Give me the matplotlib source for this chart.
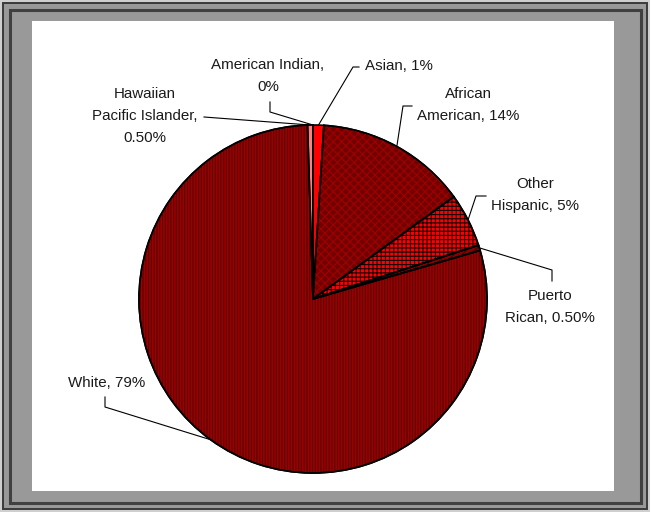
import matplotlib
matplotlib.use("Agg")
import numpy as np
import matplotlib.pyplot as plt
from matplotlib.patches import Rectangle, Wedge

# ethnic breakdown, clockwise from 12 o'clock
groups = ["Asian", "African\nAmerican", "Other\nHispanic", "Puerto\nRican",
          "White", "Hawaiian\nPacific Islander", "American Indian"]
shares = [1, 14, 5, 0.5, 79, 0.5, 0]
share_text = ["1%", "14%", "5%", "0.50%", "79%", "0.50%", "0%"]
separators = [", ", ", ", ", ", ", ", ", ", ",\n", ",\n"]

face_colors = ["#ff0000", "#720000", "#ff0000", "#8a0000",
               "#990000", "#ff8080", "#ff4040"]
hatches = [None, "xxxx", "++++", "////", "||||||", None, None]
hatch_colors = [None, "#a00000", "#1a0000", "#400000", "#5c0000", None, None]

# label placement in pixels from the top-left corner: text centre, elbow, tick end
label_pos = [(399, 66), (468, 105), (535, 195), (550, 307),
             (107, 383), (145, 116), (268, 76)]
elbows = [(353, 67), (403, 106), (476, 196), (552, 270),
          (105, 407), (204, 117), (270, 112)]
ticks = [(359, 67), (412, 106), (486, 196), (552, 281),
         (105, 397), (204, 117), (270, 102)]

W, H = 650, 512
cx, cy, r = 313, 299, 174

plt.rcParams["font.family"] = ["Liberation Sans", "DejaVu Sans"]
plt.rcParams["hatch.linewidth"] = 0.8


def up(p):
    return p[0], H - p[1]


fig = plt.figure(figsize=(6.5, 5.12), dpi=100)
ax = fig.add_axes([0, 0, 1, 1])

# frame: grey band with double dark border, white plot area
ax.add_patch(Rectangle((0, 0), W, H, facecolor="#cfcfcf", edgecolor="none"))
ax.add_patch(Rectangle((3, 3), W - 6, H - 6, facecolor="#999999",
                       edgecolor="#3a3a3a", linewidth=1.4))
ax.add_patch(Rectangle((9.5, 9.5), W - 19, H - 19, facecolor="none",
                       edgecolor="#404040", linewidth=2.2))
ax.add_patch(Rectangle((32, H - 491), 614 - 32, 491 - 21,
                       facecolor="white", edgecolor="none"))

wedges, _ = ax.pie(shares, colors=face_colors, startangle=90, counterclock=False,
                   center=up((cx, cy)), radius=r, normalize=True,
                   wedgeprops=dict(edgecolor="black", linewidth=1.2))

# fill patterns laid over the plain wedges
for w, hp, hc in zip(wedges, hatches, hatch_colors):
    if hp is None:
        continue
    ax.add_patch(Wedge(w.center, w.r, w.theta1, w.theta2, facecolor="none",
                       edgecolor=hc, linewidth=0, hatch=hp, zorder=w.zorder))
    ax.add_patch(Wedge(w.center, w.r, w.theta1, w.theta2, facecolor="none",
                       edgecolor="black", linewidth=1.2, zorder=w.zorder + 0.1))

# data labels with elbow leader lines
for w, name, sep, pct, tp, el, tk in zip(wedges, groups, separators, share_text,
                                         label_pos, elbows, ticks):
    mid = np.deg2rad((w.theta1 + w.theta2) / 2)
    edge = (w.center[0] + w.r * np.cos(mid), w.center[1] + w.r * np.sin(mid))
    ex, ey = up(el)
    tx, ty = up(tk)
    ax.plot([edge[0], ex, tx], [edge[1], ey, ty], color="black", lw=0.8, zorder=5)
    ax.text(*up(tp), f"{name}{sep}{pct}", ha="center", va="center",
            fontsize=10.9, linespacing=1.75, color="#1a1a1a", zorder=6)

ax.set_xlim(0, W)
ax.set_ylim(0, H)
ax.set_aspect("auto")
ax.axis("off")

fig.savefig("out.png", dpi=100)
